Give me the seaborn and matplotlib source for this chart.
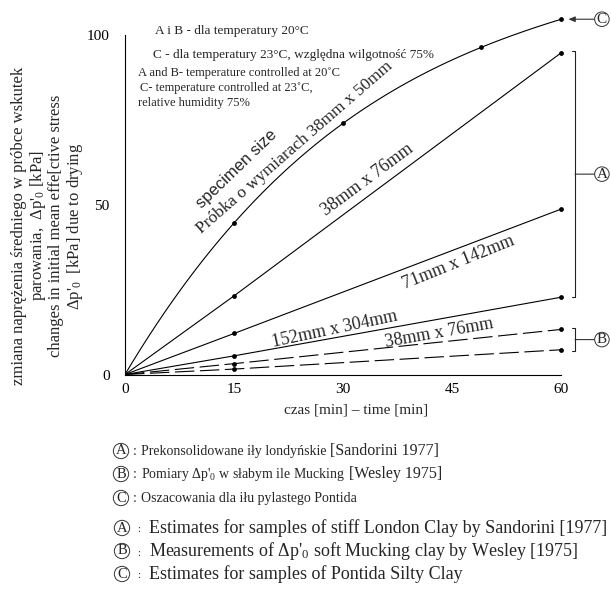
import matplotlib
matplotlib.use("Agg")
import matplotlib.pyplot as plt
import numpy as np
import pandas as pd
import seaborn as sns

# ---------------- data ----------------
c_time = [0, 15, 30, 49, 60]
c_stress = [0, 44.7, 74.1, 96.5, 104.8]          # C: Pontida silty clay 38mm x 50mm
ab_time = [0, 15, 60]
a_38x76 = [0, 23.2, 94.9]                         # A: 38mm x 76mm
a_71x142 = [0, 12.1, 48.8]                        # A: 71mm x 142mm
a_152x304 = [0, 5.5, 22.8]                        # A: 152mm x 304mm
b_upper = [0, 3.2, 13.3]                          # B: Mucking clay
b_lower = [0, 1.6, 7.3]                           # B: Mucking clay 38mm x 76mm
x_ticks = [0, 15, 30, 45, 60]
y_ticks = [0, 50, 100]

sns.set_theme(style="white")
plt.rcParams['font.family'] = ['Liberation Serif', 'DejaVu Serif']
plt.rcParams['mathtext.fontset'] = 'custom'
plt.rcParams['mathtext.rm'] = 'Liberation Serif'
plt.rcParams['mathtext.it'] = 'Liberation Serif:italic'
plt.rcParams['lines.scale_dashes'] = False

W, H = 611, 595
fig = plt.figure(figsize=(W / 100, H / 100), dpi=100)
fig.patch.set_facecolor('white')
x0_px, y0_px = 125, 374.5
px_per_min, px_per_kpa = 7.27, 3.39
ax = fig.add_axes([x0_px / W, 1 - y0_px / H, (W - x0_px) / W, y0_px / H])
ax.set_facecolor('none')

LW = 0.8
# curve C (smooth)
sns.regplot(x=c_time, y=c_stress, order=4, ci=None, scatter=False, truncate=True,
            line_kws=dict(color='black', lw=LW), ax=ax)
# straight A lines
for vals in [a_38x76, a_71x142, a_152x304]:
    sns.lineplot(x=ab_time, y=vals, ax=ax, color='black', lw=LW, estimator=None, sort=False)
# dashed B lines
for vals in [b_upper, b_lower]:
    sns.lineplot(x=ab_time, y=vals, ax=ax, color='black', lw=LW, estimator=None,
                 sort=False, linestyle=(0, (14, 4)))
# markers
mk_x = c_time[1:] + ab_time[1:] * 5
mk_y = (c_stress[1:] + a_38x76[1:] + a_71x142[1:] + a_152x304[1:]
        + b_upper[1:] + b_lower[1:])
sns.scatterplot(x=mk_x, y=mk_y, ax=ax, color='black', s=12, linewidth=0, clip_on=False, zorder=5)

ax.set_xlim(0, (W - x0_px) / px_per_min)
ax.set_ylim(0, y0_px / px_per_kpa)
ax.set_xlabel('')
ax.set_ylabel('')
for s in ['top', 'right']:
    ax.spines[s].set_visible(False)
ax.spines['left'].set_bounds(0, 100)
ax.spines['bottom'].set_bounds(0, 60)
for s in ['left', 'bottom']:
    ax.spines[s].set_color('black')
    ax.spines[s].set_linewidth(LW)
ax.set_xticks(x_ticks)
ax.set_yticks(y_ticks)
ax.tick_params(axis='both', direction='in', length=5, width=LW, colors='black', labelsize=11)
ax.tick_params(axis='x', pad=6)
ax.tick_params(axis='y', pad=11)
ax.grid(False)


def ftext(px, py, s, **kw):
    return fig.text(px / W, 1 - py / H, s, **kw)


# y label (four lines)
ftext(48, 226,
      "zmiana naprężenia średniego w próbce wskutek\n"
      "parowania,  Δp'$_\\mathrm{0}$ [kPa]\n"
      "changes in initial mean effe[ctive stress\n"
      "Δp'$_\\mathrm{0}$  [kPa] due to drying",
      rotation=90, ha='center', va='center', multialignment='center',
      fontsize=12, linespacing=1.05)

# x label
ftext(356, 410, "czas [min] – time [min]", ha='center', va='center', fontsize=11)

# top-left notes
ftext(155, 31, "A i B - dla temperatury 20°C", ha='left', va='center', fontsize=9.5)
ftext(153, 55, "C - dla temperatury 23°C, względna wilgotność 75%", ha='left', va='center', fontsize=9.5)
ftext(138, 72.7, "A and B- temperature controlled at 20˚C", ha='left', va='center', fontsize=9)
ftext(140, 88, "C- temperature controlled at 23˚C,", ha='left', va='center', fontsize=9)
ftext(138, 102.7, "relative humidity 75%", ha='left', va='center', fontsize=9)

# rotated labels
ftext(237, 169, "specimen size", rotation=44, rotation_mode='anchor', ha='center', va='center',
      fontsize=12, family='Liberation Sans')
ftext(295, 148, "Próbka o wymiarach 38mm x 50mm", rotation=41, rotation_mode='anchor',
      ha='center', va='center', fontsize=12.5)
ftext(367, 180, "38mm x 76mm", rotation=36.5, rotation_mode='anchor', ha='center', va='center', fontsize=13)
ftext(459, 263, "71mm x 142mm", rotation=22, rotation_mode='anchor', ha='center', va='center', fontsize=13)
ftext(335, 329, "152mm x 304mm", rotation=12, rotation_mode='anchor', ha='center', va='center', fontsize=13)
ftext(439, 333, "38mm x 76mm", rotation=10, rotation_mode='anchor', ha='center', va='center', fontsize=13)

# brackets and circled letters on the right
circ = dict(boxstyle='circle,pad=0.05', fc='white', ec='#333333', lw=0.7)
bx = 61.9
hook = 0.45
lab_x = 65.6


def bracket(top, bot, letter):
    ax.plot([bx - hook, bx, bx, bx - hook], [top, top, bot, bot], color='#222222', lw=0.8,
            clip_on=False)
    mid = (top + bot) / 2
    ax.annotate(letter, xy=(bx, mid), xytext=(lab_x, mid), ha='center', va='center',
                fontsize=11, bbox=circ, annotation_clip=False,
                arrowprops=dict(arrowstyle='-', lw=0.8, color='#333333', shrinkA=0, shrinkB=0))


bracket(a_38x76[-1] + 0.5, a_152x304[-1], 'A')
bracket(b_upper[-1] + 0.4, b_lower[-1] - 0.4, 'B')
ax.annotate('C', xy=(61.0, c_stress[-1]), xytext=(lab_x, c_stress[-1]), ha='center', va='center',
            fontsize=11, bbox=circ, annotation_clip=False,
            arrowprops=dict(arrowstyle='-|>,head_length=0.35,head_width=0.15', lw=0.8,
                            color='#333333', shrinkA=0, shrinkB=0))

# bottom legend
circ2 = dict(boxstyle='circle,pad=0.08', fc='white', ec='#333333', lw=0.7)
renderer = fig.canvas.get_renderer()
pl_rows = [("A", "Prekonsolidowane iły londyńskie", "[Sandorini 1977]", 451),
           ("B", "Pomiary Δp'$_\\mathrm{0}$ w słabym ile Mucking", "[Wesley 1975]", 474),
           ("C", "Oszacowania dla iłu pylastego Pontida", "", 498)]
for letter, txt, ref, yc in pl_rows:
    ftext(121, yc, letter, ha='center', va='center', fontsize=10.5, bbox=circ2)
    ftext(133, yc + 4, ":", ha='left', va='baseline', fontsize=10)
    t = ftext(141, yc + 4, txt, ha='left', va='baseline', fontsize=10)
    if ref:
        bb = t.get_window_extent(renderer)
        fig.text((bb.x1 + 4) / W, 1 - (yc + 4) / H, ref, ha='left', va='baseline', fontsize=11.5)

en_rows = [("A", "Estimates for samples of stiff London Clay by Sandorini [1977]", 528),
           ("B", "Measurements of Δp'$_\\mathrm{0}$ soft Mucking clay by Wesley [1975]", 551),
           ("C", "Estimates for samples of Pontida Silty Clay", 574)]
for letter, txt, yc in en_rows:
    ftext(122, yc, letter, ha='center', va='center', fontsize=10.5, bbox=circ2)
    ftext(137, yc + 2, ":", ha='left', va='center', fontsize=8)
    ftext(149, yc, txt, ha='left', va='center', fontsize=13)

fig.savefig("out.png", dpi=100, facecolor='white')
